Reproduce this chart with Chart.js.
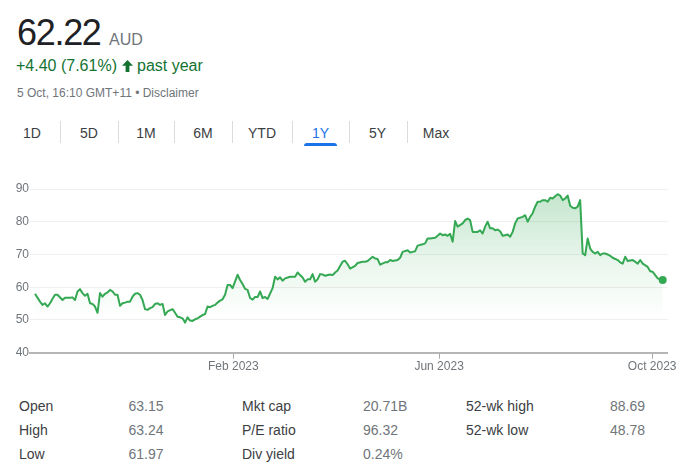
<!DOCTYPE html>
<html>
<head>
<meta charset="utf-8">
<script src="https://cdn.jsdelivr.net/npm/chart.js@4/dist/chart.umd.min.js"></script>
<style>
  html, body { margin: 0; padding: 0; background: #fff; }
  body { width: 691px; height: 472px; position: relative; overflow: hidden;
         font-family: "Liberation Sans", Arial, sans-serif; }
  .abs { position: absolute; white-space: nowrap; line-height: 1; }
  .tab { position: absolute; width: 60px; text-align: center; font-size: 14px; line-height: 1; color: #3c4043; top: 125.5px; }
  .sep { position: absolute; top: 121px; width: 1px; height: 22px; background: #dadce0; }
  .lbl { position: absolute; font-size: 14px; line-height: 1; color: #3c4043; white-space: nowrap; }
  .val { position: absolute; font-size: 14px; line-height: 1; color: #70757a; white-space: nowrap; }
  #chartWrap { position: absolute; left: 0; top: 170px; width: 691px; height: 215px; }
</style>
</head>
<body>
<div class="abs" style="left:17px; top:14.5px; font-size:36px; color:#202124; letter-spacing:-1.3px;">62.22</div>
<div class="abs" style="left:109px; top:31.5px; font-size:16px; color:#70757a;">AUD</div>
<div class="abs" style="left:16px; top:58.2px; font-size:16px; color:#137333;">+4.40 (7.61%)</div>
<svg style="position:absolute; left:122px; top:60px;" width="11" height="12" viewBox="0 0 11 12"><path fill="#137333" d="M5.5 0 L11 5.8 H7.4 V12 H3.6 V5.8 H0 Z"/></svg>
<div class="abs" style="left:137px; top:58.2px; font-size:16px; color:#137333;">past year</div>
<div class="abs" style="left:17px; top:86.8px; font-size:12px; color:#70757a;">5 Oct, 16:10 GMT+11 • Disclaimer</div>

<div id="tabs"></div>
<div style="position:absolute; left:304px; top:143px; width:33px; height:3px; background:#1a73e8; border-radius:3px 3px 0 0;"></div>

<div id="chartWrap"><canvas id="c" width="691" height="215"></canvas></div>

<div id="stats"></div>

<script>
// ---- Data ----
const rangeTabs = ['1D', '5D', '1M', '6M', 'YTD', '1Y', '5Y', 'Max'];
const activeTab = '1Y';

// trading-day index (0 = first day of the 1-year window) and closing price (AUD)
const tradingDay = [
  0, 2, 3, 4, 5, 6, 7, 8, 9, 11,
  12, 14, 15, 16, 17, 18, 19, 20, 21, 22,
  23, 24, 25, 26, 27, 28, 29, 30, 31, 32,
  33, 34, 35, 36, 37, 38, 39, 40, 41, 42,
  43, 44, 45, 46, 47, 48, 49, 50, 51, 52,
  53, 55, 56, 57, 58, 59, 60, 61, 62, 63,
  64, 65, 66, 67, 68, 69, 70, 71, 72, 73,
  74, 75, 76, 77, 78, 79, 81, 82, 83, 84,
  85, 86, 87, 88, 89, 90, 91, 92, 93, 95,
  96, 97, 98, 99, 100, 102, 104, 105, 106, 107,
  108, 109, 110, 111, 112, 113, 114, 115, 116, 118,
  119, 120, 121, 122, 123, 124, 125, 126, 128, 129,
  131, 132, 133, 135, 136, 137, 138, 140, 141, 142,
  143, 145, 146, 147, 149, 150, 151, 152, 153, 155,
  156, 157, 158, 160, 161, 162, 163, 164, 165, 166,
  167, 168, 169, 171, 172, 173, 174, 175, 177, 178,
  179, 180, 181, 182, 183, 184, 185, 186, 187, 188,
  189, 190, 191, 192, 193, 195, 196, 197, 198, 199,
  200, 201, 202, 203, 204, 205, 206, 207, 208, 209,
  210, 211, 212, 213, 214, 215, 216, 217, 218, 219,
  220, 221, 222, 223, 224, 225, 226, 227, 228, 229,
  230, 231, 233, 234, 235, 236, 237, 239, 240, 241,
  242, 243, 245, 246, 247, 248, 249, 250, 251
];
const closePrice = [
  58.0, 55.6, 54.6, 55.1, 54.1, 55.1, 56.5, 57.7, 57.7, 56.1,
  56.8, 56.8, 56.9, 56.1, 58.7, 59.4, 58.2, 57.4, 58.0, 55.1,
  54.9, 54.1, 52.2, 58.2, 57.1, 58.0, 58.4, 59.2, 58.7, 57.7,
  57.7, 54.3, 55.1, 55.3, 55.6, 55.6, 57.1, 58.0, 58.2, 57.7,
  56.1, 53.3, 53.1, 53.6, 53.9, 54.9, 55.1, 54.6, 54.9, 51.5,
  52.6, 53.3, 52.2, 51.0, 50.8, 50.5, 49.2, 50.8, 49.8, 49.7,
  50.2, 50.5, 51.0, 51.5, 51.8, 54.1, 53.9, 54.3, 54.6, 55.3,
  55.9, 56.3, 57.7, 60.7, 60.7, 59.7, 63.8, 62.2, 61.0, 59.5,
  59.2, 56.7, 56.2, 57.0, 57.0, 58.7, 56.7, 57.0, 56.4, 59.7,
  63.2, 62.4, 63.0, 62.0, 62.7, 63.2, 63.2, 64.5, 63.7, 63.0,
  61.7, 62.4, 62.4, 64.0, 61.7, 62.4, 64.0, 63.9, 63.5, 63.9,
  63.7, 64.5, 65.1, 66.5, 67.8, 68.1, 67.0, 65.7, 66.5, 67.4,
  67.8, 67.8, 68.0, 69.3, 68.8, 68.6, 66.9, 67.6, 67.6, 68.3,
  68.0, 68.3, 69.0, 70.8, 71.3, 70.6, 70.8, 71.0, 72.7, 73.1,
  73.4, 74.9, 74.9, 75.1, 75.7, 76.4, 75.9, 76.1, 75.7, 76.3,
  73.9, 80.2, 78.5, 79.5, 80.5, 81.0, 80.5, 76.9, 76.9, 77.4,
  76.4, 78.5, 80.0, 78.0, 78.0, 77.4, 77.6, 77.1, 75.7, 75.9,
  76.1, 75.4, 76.9, 79.5, 81.0, 81.5, 82.0, 80.0, 81.5, 82.6,
  84.6, 86.1, 86.1, 86.6, 86.6, 86.1, 87.3, 87.1, 87.8, 88.4,
  88.0, 86.6, 87.1, 88.0, 84.9, 84.3, 84.1, 84.6, 86.6, 70.3,
  69.8, 74.9, 71.8, 70.8, 70.3, 70.8, 69.8, 70.3, 70.3, 70.0,
  69.6, 69.0, 68.3, 67.6, 67.2, 69.3, 68.0, 68.3, 67.8, 67.2,
  68.3, 67.2, 66.2, 64.9, 64.7, 63.7, 62.7, 62.4, 62.22
];

// x-axis month labels and their trading-day positions
const monthTickLabels = ['Feb 2023', 'Jun 2023', 'Oct 2023'];
const monthTickDays = [79.3, 161.6, 246.8];
const yTicks = [40, 50, 60, 70, 80, 90];

// key stats
const statLabelsCol1 = ['Open', 'High', 'Low'];
const statValuesCol1 = ['63.15', '63.24', '61.97'];
const statLabelsCol2 = ['Mkt cap', 'P/E ratio', 'Div yield'];
const statValuesCol2 = ['20.71B', '96.32', '0.24%'];
const statLabelsCol3 = ['52-wk high', '52-wk low'];
const statValuesCol3 = ['88.69', '48.78'];

// ---- Header tabs ----
const tabCenters = [32, 89, 146, 203, 262, 320.5, 377.5, 436];
const sepX = [60, 117.7, 174.3, 231.7, 292.3, 349, 406.5];
const tabsEl = document.getElementById('tabs');
rangeTabs.forEach((t, i) => {
  const d = document.createElement('div');
  d.className = 'tab';
  d.style.left = (tabCenters[i] - 30) + 'px';
  d.textContent = t;
  if (t === activeTab) d.style.color = '#1a73e8';
  tabsEl.appendChild(d);
});
sepX.forEach(x => {
  const s = document.createElement('div');
  s.className = 'sep';
  s.style.left = x + 'px';
  tabsEl.appendChild(s);
});

// ---- Stats table ----
const statsEl = document.getElementById('stats');
const rowTops = [399.1, 423.1, 447.1];
function addCol(labels, values, lx, vx) {
  labels.forEach((l, i) => {
    const a = document.createElement('div');
    a.className = 'lbl'; a.style.left = lx + 'px'; a.style.top = rowTops[i] + 'px'; a.textContent = l;
    statsEl.appendChild(a);
    const b = document.createElement('div');
    b.className = 'val'; b.style.left = vx + 'px'; b.style.top = rowTops[i] + 'px'; b.textContent = values[i];
    statsEl.appendChild(b);
  });
}
addCol(statLabelsCol1, statValuesCol1, 19, 128.5);
addCol(statLabelsCol2, statValuesCol2, 242, 363);
addCol(statLabelsCol3, statValuesCol3, 466, 610);

// ---- Chart ----
const lineColor = '#34a853';
const points = tradingDay.map((d, i) => ({ x: d, y: closePrice[i] }));
const lastIdx = points.length - 1;

new Chart(document.getElementById('c'), {
  type: 'line',
  data: {
    datasets: [{
      data: points,
      borderColor: lineColor,
      borderWidth: 2,
      borderJoinStyle: 'round',
      tension: 0,
      pointRadius: ctx => ctx.dataIndex === lastIdx ? 4 : 0,
      pointHoverRadius: 0,
      pointBackgroundColor: lineColor,
      pointBorderColor: lineColor,
      pointBorderWidth: 0,
      fill: 'start',
      backgroundColor: ctx => {
        const ca = ctx.chart.chartArea;
        if (!ca) return 'rgba(52,168,83,0.15)';
        const g = ctx.chart.ctx.createLinearGradient(0, ca.top, 0, ca.bottom);
        g.addColorStop(0, 'rgba(52,168,83,0.30)');
        g.addColorStop(0.45, 'rgba(52,168,83,0.10)');
        g.addColorStop(0.8, 'rgba(52,168,83,0)');
        g.addColorStop(1, 'rgba(52,168,83,0)');
        return g;
      }
    }]
  },
  options: {
    responsive: false,
    devicePixelRatio: 1,
    animation: false,
    layout: { padding: { left: 0, right: 23.3, top: 19, bottom: 0 } },
    plugins: { legend: { display: false }, tooltip: { enabled: false } },
    scales: {
      x: {
        type: 'linear',
        min: -2,
        max: 253,
        afterFit: s => { s.height = 32.3; },
        afterBuildTicks: s => { s.ticks = monthTickDays.map(v => ({ value: v })); },
        grid: { drawOnChartArea: false, drawTicks: true, tickLength: 6, color: '#a8a8a8', lineWidth: 1 },
        border: { display: true, color: '#b5b5b5', width: 2 },
        ticks: {
          autoSkip: false, maxRotation: 0, padding: 1,
          color: '#70757a',
          font: { family: '"Liberation Sans", Arial, sans-serif', size: 12 },
          callback: (v, i) => monthTickLabels[i]
        }
      },
      y: {
        min: 40,
        max: 90,
        afterFit: s => { s.width = 30; },
        afterBuildTicks: s => { s.ticks = yTicks.map(v => ({ value: v })); },
        grid: { color: '#efefef', lineWidth: 1, drawTicks: false },
        border: { display: false },
        ticks: {
          padding: 1,
          color: '#70757a',
          font: { family: '"Liberation Sans", Arial, sans-serif', size: 12 }
        }
      }
    }
  }
});
</script>
</body>
</html>
